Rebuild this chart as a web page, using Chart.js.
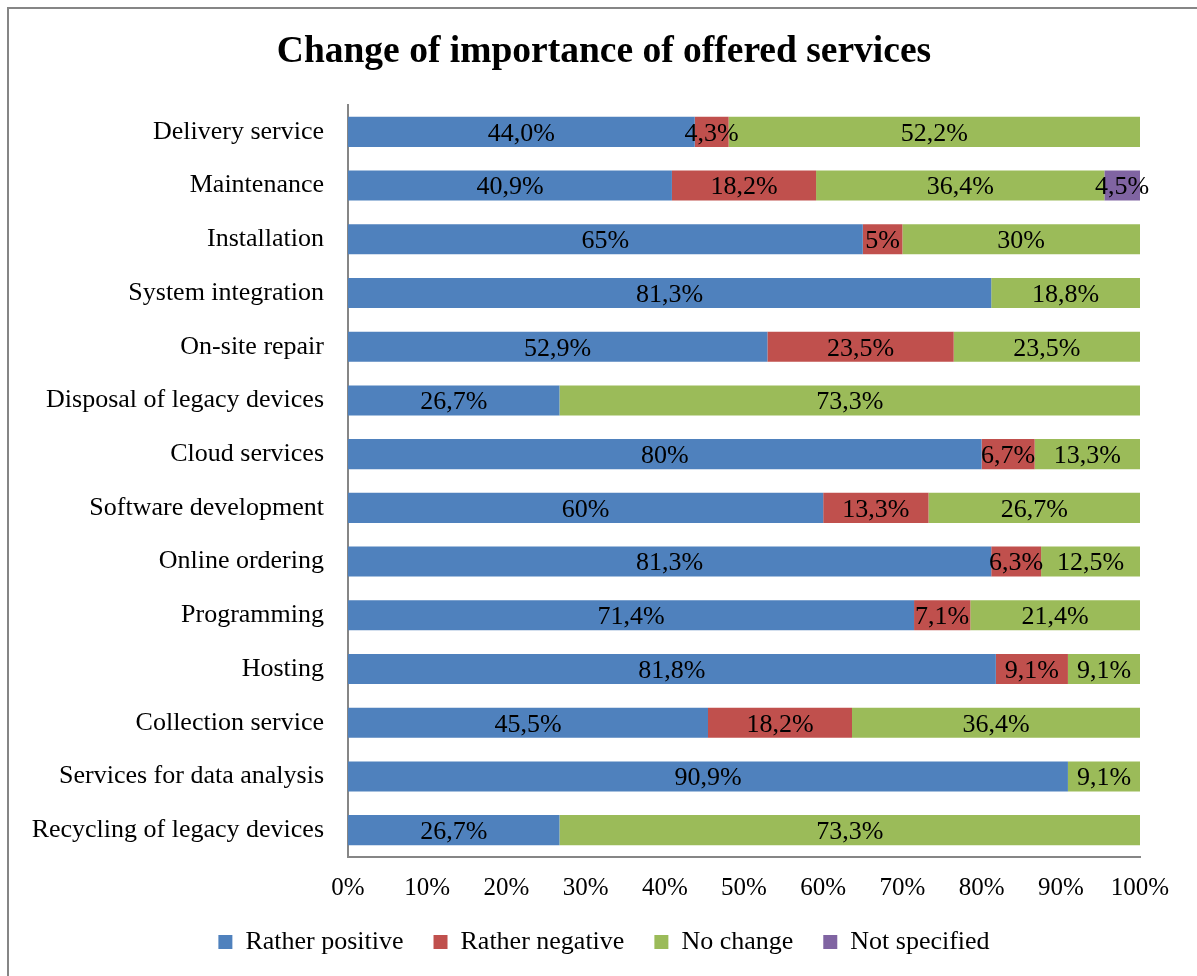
<!DOCTYPE html>
<html>
<head>
<meta charset="utf-8">
<script src="https://cdn.jsdelivr.net/npm/chart.js@4/dist/chart.umd.min.js"></script>
<style>
  html, body { margin: 0; padding: 0; background: #fff; }
  #wrap { width: 1197px; height: 976px; position: relative; }
</style>
</head>
<body>
<div id="wrap"><canvas id="services-chart"></canvas></div>
<script>
'use strict';

const services = [
  'Delivery service',
  'Maintenance',
  'Installation',
  'System integration',
  'On-site repair',
  'Disposal of legacy devices',
  'Cloud services',
  'Software development',
  'Online ordering',
  'Programming',
  'Hosting',
  'Collection service',
  'Services for data analysis',
  'Recycling of legacy devices',
];

const ratherPositive = [44.0, 40.9, 65, 81.3, 52.9, 26.7, 80, 60, 81.3, 71.4, 81.8, 45.5, 90.9, 26.7];
const ratherNegative = [4.3, 18.2, 5, 0, 23.5, 0, 6.7, 13.3, 6.3, 7.1, 9.1, 18.2, 0, 0];
const noChange = [52.2, 36.4, 30, 18.8, 23.5, 73.3, 13.3, 26.7, 12.5, 21.4, 9.1, 36.4, 9.1, 73.3];
const notSpecified = [0, 4.5, 0, 0, 0, 0, 0, 0, 0, 0, 0, 0, 0, 0];

const seriesNames = ['Rather positive', 'Rather negative', 'No change', 'Not specified'];
const seriesColors = ['#4F81BD', '#C0504D', '#9BBB59', '#8064A2'];
const xTicks = [0, 10, 20, 30, 40, 50, 60, 70, 80, 90, 100];

// rows whose labels always keep one decimal (44,0%)
const oneDecimalRows = [0];

const allSeries = [ratherPositive, ratherNegative, noChange, notSpecified];

// 100% stacked: each row is scaled by its own total
const rowTotals = services.map((_, i) => allSeries.reduce((sum, s) => sum + s[i], 0));

function formatPercent(value, row) {
  let text;
  if (Number.isInteger(value) && !oneDecimalRows.includes(row)) {
    text = String(value);
  } else {
    text = value.toFixed(1).replace('.', ',');
  }
  return text + '%';
}

const serif = "'Liberation Serif', 'Times New Roman', serif";

const frameLines = {
  id: 'frameLines',
  beforeDraw(chart) {
    const ctx = chart.ctx;
    ctx.save();
    ctx.fillStyle = '#ffffff';
    ctx.fillRect(0, 0, chart.width, chart.height);
    ctx.strokeStyle = '#868686';
    ctx.lineWidth = 2;
    ctx.beginPath();
    ctx.moveTo(8, chart.height);
    ctx.lineTo(8, 8);
    ctx.lineTo(chart.width, 8);
    ctx.stroke();
    ctx.restore();
  }
};

const segmentLabels = {
  id: 'segmentLabels',
  afterDatasetsDraw(chart) {
    const ctx = chart.ctx;
    ctx.save();
    ctx.font = '26px ' + serif;
    ctx.fillStyle = '#000000';
    ctx.textAlign = 'center';
    ctx.textBaseline = 'middle';
    chart.data.datasets.forEach((dataset, d) => {
      const meta = chart.getDatasetMeta(d);
      meta.data.forEach((bar, i) => {
        const raw = dataset.rawValues[i];
        if (!raw) return;
        const cx = (bar.x + bar.base) / 2;
        ctx.fillText(formatPercent(raw, i), cx, bar.y + 2);
      });
    });
    ctx.restore();
  }
};

const chartContext = document.querySelector('#services-chart').getContext('2d');

const chartConfig = {
  type: 'bar',
  data: {
    labels: services,
    datasets: allSeries.map((values, d) => ({
      label: seriesNames[d],
      data: values.map((v, i) => v / rowTotals[i] * 100),
      rawValues: values,
      backgroundColor: seriesColors[d],
      borderWidth: 0,
      categoryPercentage: 1,
      barPercentage: 0.56,
    })),
  },
  options: {
    indexAxis: 'y',
    responsive: true,
    maintainAspectRatio: false,
    animation: false,
    layout: {
      padding: { left: 11, right: 0, top: 0, bottom: 11 },
    },
    scales: {
      x: {
        stacked: true,
        min: 0,
        max: 100,
        afterBuildTicks: (scale) => {
          scale.ticks = xTicks.map((v) => ({ value: v }));
        },
        afterFit: (scale) => {
          scale.height = 42;
        },
        ticks: {
          callback: (v) => v + '%',
          font: { family: serif, size: 25 },
          color: '#000000',
          padding: 16,
          maxRotation: 0,
        },
        grid: { display: false, drawTicks: false },
        border: { display: true, color: '#868686', width: 2 },
      },
      y: {
        stacked: true,
        afterFit: (scale) => {
          scale.width = 337;
        },
        ticks: {
          font: { family: serif, size: 26 },
          color: '#000000',
          padding: 24,
        },
        grid: { display: false, drawTicks: false },
        border: { display: true, color: '#868686', width: 2 },
      },
      // empty strip on the right so the plot ends at 100% with room for its label
      yRight: {
        type: 'category',
        position: 'right',
        afterFit: (scale) => {
          scale.width = 57;
        },
        ticks: { display: false },
        grid: { display: false, drawTicks: false },
        border: { display: false },
      },
    },
    plugins: {
      title: {
        display: true,
        text: 'Change of importance of offered services',
        font: { family: serif, size: 37.5, weight: 'bold' },
        color: '#000000',
        padding: { top: 30, bottom: 30 },
      },
      legend: {
        position: 'bottom',
        labels: {
          font: { family: serif, size: 26 },
          color: '#000000',
          boxWidth: 14,
          boxHeight: 14,
          padding: 30,
        },
      },
      tooltip: { enabled: false },
    },
  },
  plugins: [frameLines, segmentLabels],
};

const chart = new Chart(chartContext, chartConfig);
</script>
</body>
</html>
